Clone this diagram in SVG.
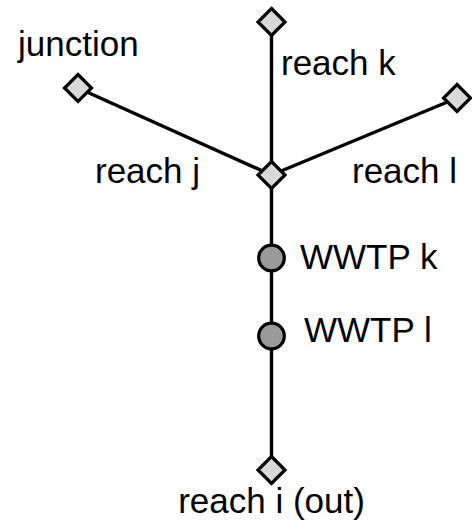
<svg xmlns="http://www.w3.org/2000/svg" width="472" height="531" viewBox="0 0 472 531">
<style>
.edge{stroke:#000;stroke-width:3.4;fill:none}
.junc{fill:#d9d9d9;stroke:#000;stroke-width:3.2;stroke-linejoin:miter}
.wwtp{fill:#9a9a9a;stroke:#000;stroke-width:3.2}
text{font-family:"Liberation Sans",Arial,sans-serif;font-size:35px;fill:#000}
</style>
<rect width="472" height="531" fill="#fff"/>
<g id="connectors">
<line class="edge" x1="78" y1="88" x2="271.5" y2="175"/>
<line class="edge" x1="271.5" y1="22" x2="271.5" y2="175"/>
<line class="edge" x1="457" y1="98" x2="271.5" y2="175"/>
<line class="edge" x1="271.5" y1="175" x2="271.5" y2="470"/>
</g>
<g id="n_top"><path class="junc" d="M271.5 8.5 L285 22 L271.5 35.5 L258 22 Z"/></g>
<g id="n_left"><path class="junc" d="M78 74.5 L91.5 88 L78 101.5 L64.5 88 Z"/></g>
<g id="n_right"><path class="junc" d="M457 84.5 L470.5 98 L457 111.5 L443.5 98 Z"/></g>
<g id="n_center"><path class="junc" d="M271.5 161.5 L285 175 L271.5 188.5 L258 175 Z"/></g>
<g id="n_wwtp_k"><circle class="wwtp" cx="271.5" cy="258" r="12.8"/><text x="300" y="269">WWTP k</text></g>
<g id="n_wwtp_l"><circle class="wwtp" cx="271.5" cy="336" r="12.8"/><text x="304" y="342">WWTP l</text></g>
<g id="n_out"><path class="junc" d="M271.5 456.5 L285 470 L271.5 483.5 L258 470 Z"/></g>
<g id="labels">
<text x="18" y="56">junction</text>
<text x="281" y="75">reach k</text>
<text x="95" y="183">reach j</text>
<text x="352" y="183">reach l</text>
<text x="271.5" y="513" text-anchor="middle">reach i (out)</text>
</g>
</svg>
